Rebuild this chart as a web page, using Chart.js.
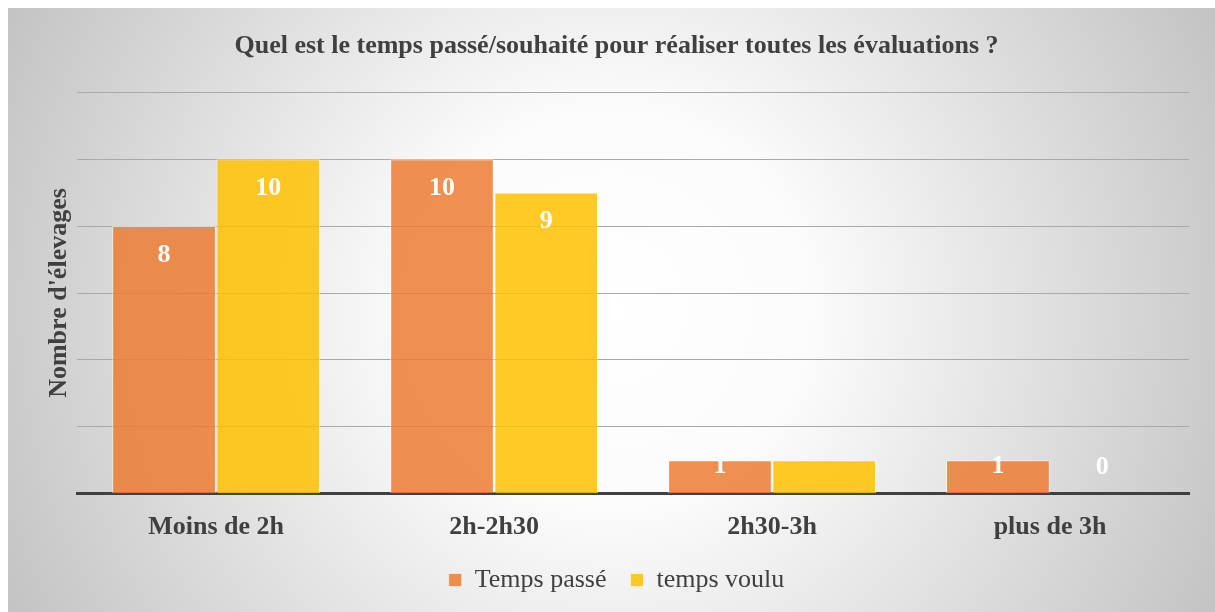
<!DOCTYPE html>
<html>
<head>
<meta charset="utf-8">
<script src="https://cdn.jsdelivr.net/npm/chart.js@4/dist/chart.umd.min.js"></script>
<style>
  html, body { margin: 0; padding: 0; background: #fff; }
  #wrap { position: absolute; left: 8px; top: 8px; width: 1207px; height: 604px; }
</style>
</head>
<body>
<div id="wrap"><canvas id="chart"></canvas></div>
<script>
const categories = ["Moins de 2h", "2h-2h30", "2h30-3h", "plus de 3h"];
const tempsPasse = [8, 10, 1, 1];
const tempsVoulu = [10, 9, 1, 0];
// which value labels show in the picture
const showPasse = [true, true, true, true];
const showVoulu = [true, true, false, true];

const serif = "'Liberation Serif', 'Times New Roman', serif";
const textColor = "#404040";

const background = {
  id: "background",
  beforeDraw(chart) {
    const { ctx, width, height } = chart;
    ctx.save();
    const cx = width / 2, cy = height / 2;
    const g = ctx.createRadialGradient(cx, cy, 0, cx, cy, Math.hypot(cx, cy));
    g.addColorStop(0, "#ffffff");
    g.addColorStop(0.3, "#fbfbfb");
    g.addColorStop(1, "#c3c3c3");
    ctx.fillStyle = g;
    ctx.fillRect(0, 0, width, height);
    ctx.restore();
  }
};

const valueLabels = {
  id: "valueLabels",
  afterDatasetsDraw(chart) {
    const { ctx } = chart;
    const flags = [showPasse, showVoulu];
    ctx.save();
    ctx.font = "bold 26px " + serif;
    ctx.fillStyle = "#ffffff";
    ctx.textAlign = "center";
    ctx.textBaseline = "middle";
    chart.data.datasets.forEach((ds, i) => {
      const meta = chart.getDatasetMeta(i);
      meta.data.forEach((bar, j) => {
        if (!flags[i][j]) return;
        const y = Math.min(bar.y + 29, bar.base - 27);
        ctx.fillText(String(ds.data[j]), bar.x, y);
      });
    });
    ctx.restore();
  }
};

const config = {
  type: "bar",
  data: {
    labels: categories,
    datasets: [
      {
        label: "Temps passé",
        data: tempsPasse,
        backgroundColor: "rgba(237,125,49,0.85)",
        borderColor: "rgba(255,255,255,0.55)",
        borderWidth: 1,
        categoryPercentage: 0.75,
        barPercentage: 0.995,
      },
      {
        label: "temps voulu",
        data: tempsVoulu,
        backgroundColor: "rgba(255,192,0,0.85)",
        borderColor: "rgba(255,255,255,0.55)",
        borderWidth: 1,
        categoryPercentage: 0.75,
        barPercentage: 0.995,
      },
    ],
  },
  options: {
    responsive: true,
    maintainAspectRatio: false,
    animation: false,
    layout: { padding: { left: 36, right: 26, top: 8, bottom: 9 } },
    plugins: {
      title: {
        display: true,
        text: "Quel est le temps passé/souhaité pour réaliser toutes les évaluations ?",
        color: textColor,
        font: { family: serif, size: 26, weight: "bold" },
        padding: { top: 15, bottom: 30 },
      },
      legend: {
        position: "bottom",
        labels: {
          color: textColor,
          font: { family: serif, size: 26 },
          boxWidth: 13,
          boxHeight: 13,
          padding: 24,
        },
      },
      tooltip: { enabled: false },
    },
    scales: {
      x: {
        z: 1,
        grid: { display: false },
        border: { color: "#404040", width: 3 },
        ticks: {
          color: textColor,
          font: { family: serif, size: 26, weight: "bold" },
          padding: 10,
        },
        afterFit(scale) { scale.height -= 10; },
      },
      y: {
        min: 0,
        max: 12,
        ticks: { display: false, stepSize: 2 },
        grid: { color: "#a9a9a9", lineWidth: 1, drawTicks: false },
        border: { display: false },
        title: {
          display: true,
          text: "Nombre d'élevages",
          color: textColor,
          font: { family: serif, size: 26, weight: "bold" },
          padding: { top: 0, bottom: 2 },
        },
      },
    },
  },
  plugins: [background, valueLabels],
};

window.onload = function () {
  const ctx = document.getElementById("chart").getContext("2d");
  window.chart = new Chart(ctx, config);
};
</script>
</body>
</html>
